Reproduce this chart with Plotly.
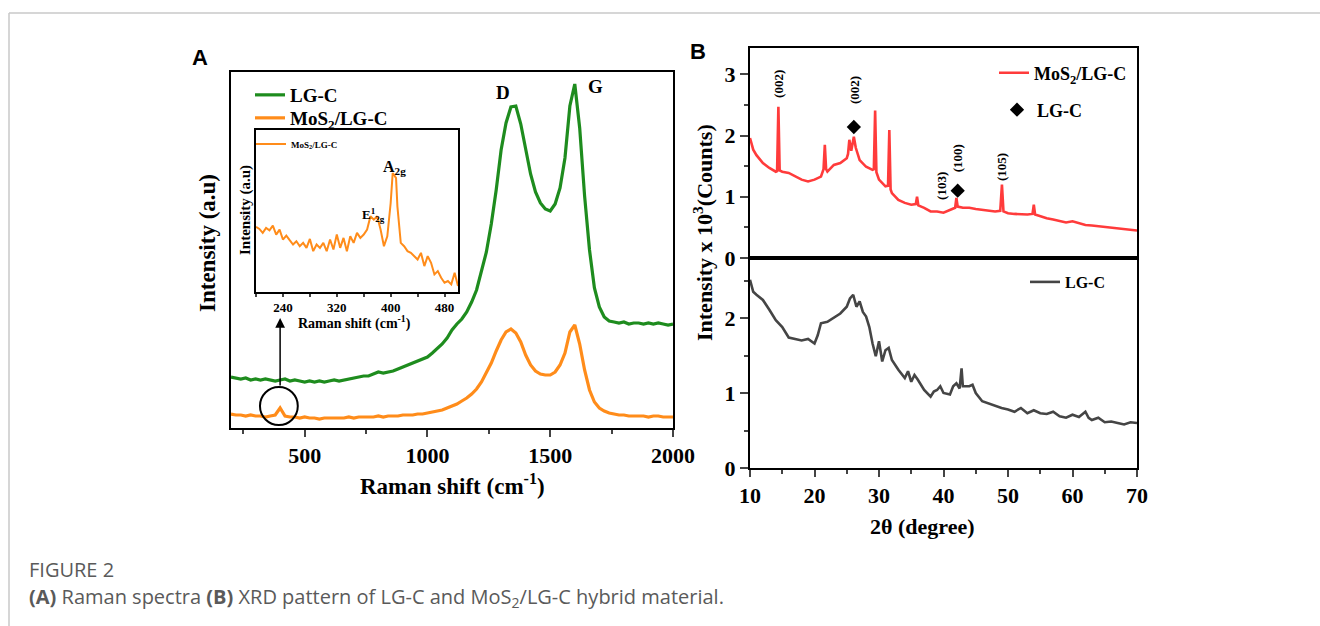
import plotly.graph_objects as go

# ---------------- Data ----------------
# Panel A: Raman spectra (arbitrary intensity units)
raman_shift = list(range(200, 2001, 20))
raman_lgc = [51, 50, 49, 50, 48, 49, 48, 49, 48, 47,
             48, 49, 47, 48, 47, 46, 47, 46, 47, 46,
             47, 48, 47, 48, 49, 50, 51, 52, 52, 54,
             56, 55, 56, 57, 59, 61, 63, 65, 67, 69,
             71, 75, 79, 84, 90, 98, 104, 109, 116, 126,
             138, 156, 176, 204, 238, 278, 305, 321, 322, 304,
             278, 254, 236, 225, 219, 217, 224, 240, 270, 322,
             344, 300, 232, 178, 140, 121, 111, 107, 106, 105,
             106, 104, 105, 105, 104, 105, 104, 105, 104, 103,
             104]
raman_mos2 = [14, 13, 13, 12, 13, 12, 12, 11, 12, 13,
              20, 12, 11, 11, 10, 11, 10, 10, 9, 10,
              10, 10, 10, 10, 11, 10, 11, 11, 11, 11,
              12, 11, 12, 12, 12, 13, 13, 13, 14, 14,
              15, 16, 17, 18, 20, 22, 24, 27, 30, 34,
              39, 46, 55, 65, 77, 88, 96, 99, 95, 86,
              73, 63, 57, 54, 53, 53, 56, 63, 75, 96,
              103, 84, 58, 38, 26, 20, 17, 15, 14, 13,
              13, 12, 12, 12, 12, 11, 12, 12, 11, 11,
              11]

# Inset: low-wavenumber Raman of MoS2/LG-C
inset_shift = [200, 205, 210, 215, 220, 225, 230, 235, 240, 245,
               250, 255, 260, 265, 270, 275, 280, 285, 290, 295,
               300, 305, 310, 315, 320, 325, 330, 335, 340, 345,
               350, 355, 360, 365, 370, 375, 380, 385, 390, 395,
               400, 403, 405, 408,
               410, 415, 420, 425, 430, 435, 440, 445, 450, 455,
               460, 465, 470, 475, 480, 485, 490, 495, 500]
inset_int = [196, 190, 178, 193, 186, 200, 173, 188, 158, 170,
             156, 143, 153, 138, 148, 133, 160, 123, 143, 133,
             148, 123, 158, 128, 173, 133, 163, 123, 168, 148,
             178, 163, 173, 188, 228, 218, 228, 188, 138, 168,
             268, 358, 353, 343,
             258, 148, 138, 123, 118, 108, 98, 118, 78, 108,
             88, 53, 63, 43, 28, 33, 23, 58, 18]

# Panel B: XRD (intensity x 10^3 counts)
xrd_theta_mos2 = [10, 10.5, 11, 12, 13, 14, 14.2, 14.4, 14.6, 15,
                  16, 17, 18, 19, 20, 21, 21.4, 21.6, 21.8, 22,
                  23, 24, 25, 25.2, 25.4, 25.7, 26.1, 26.4, 27, 28,
                  29, 29.2, 29.4, 29.6, 30, 31, 31.4, 31.6, 31.8, 32,
                  33, 34, 35, 35.7, 35.9, 36.1, 37, 38, 39, 40,
                  41, 41.8, 42.0, 42.2, 43, 44, 45, 46, 47, 48,
                  48.8, 49.06, 49.3, 50, 51, 52, 53, 53.8, 54.0, 54.2,
                  55, 56, 57, 58, 59, 60, 61, 62, 63, 64,
                  65, 66, 67, 68, 69, 70]
xrd_int_mos2 = [1.96, 1.77, 1.68, 1.55, 1.47, 1.41, 1.42, 2.47, 1.43, 1.41,
                1.39, 1.33, 1.28, 1.25, 1.28, 1.33, 1.45, 1.85, 1.45, 1.41,
                1.52, 1.55, 1.63, 1.70, 1.93, 1.75, 1.98, 1.80, 1.60, 1.49,
                1.44, 1.45, 2.41, 1.40, 1.28, 1.17, 1.18, 2.09, 1.12, 1.06,
                0.95, 0.90, 0.87, 0.88, 1.00, 0.86, 0.82, 0.76, 0.76, 0.74,
                0.79, 0.82, 0.98, 0.84, 0.82, 0.82, 0.80, 0.79, 0.78, 0.76,
                0.77, 1.20, 0.76, 0.73, 0.72, 0.71, 0.71, 0.72, 0.87, 0.71,
                0.68, 0.65, 0.63, 0.60, 0.58, 0.60, 0.57, 0.54, 0.53, 0.52,
                0.51, 0.49, 0.48, 0.47, 0.46, 0.45]

xrd_theta_lgc = [10, 10.5, 11, 12, 13, 14, 15, 16, 17, 18,
                 19, 20, 20.5, 21, 22, 23, 24, 25, 25.5, 26,
                 26.5, 27, 27.5, 28, 28.5, 29, 29.5, 30, 30.5, 31,
                 31.5, 32, 33, 34, 34.5, 35, 35.5, 36, 37, 38,
                 38.5, 39, 39.5, 40, 41, 41.5, 42, 42.5, 42.8, 43,
                 44, 44.5, 45, 46, 47, 48, 49, 50, 51, 52,
                 53, 54, 55, 56, 57, 58, 59, 60, 61, 62,
                 62.5, 63, 64, 65, 66, 67, 68, 69, 70]
xrd_int_lgc = [2.51, 2.35, 2.31, 2.24, 2.11, 1.97, 1.88, 1.74, 1.72, 1.70,
               1.72, 1.66, 1.77, 1.93, 1.95, 2.00, 2.06, 2.15, 2.26, 2.31,
               2.15, 2.22, 2.08, 2.02, 1.88, 1.66, 1.49, 1.69, 1.42, 1.57,
               1.60, 1.44, 1.31, 1.20, 1.29, 1.15, 1.24, 1.18, 1.04, 0.95,
               1.02, 1.04, 1.09, 1.00, 0.98, 1.09, 1.13, 1.06, 1.33, 1.09,
               1.09, 1.11, 1.00, 0.89, 0.86, 0.82, 0.80, 0.78, 0.75, 0.80,
               0.73, 0.77, 0.73, 0.72, 0.75, 0.69, 0.67, 0.71, 0.68, 0.75,
               0.67, 0.64, 0.67, 0.61, 0.62, 0.60, 0.58, 0.61, 0.60]

# LG-C reflections marked with diamonds on the MoS2/LG-C pattern
lgc_mark_theta = [26.1, 42.2]
lgc_mark_int = [2.14, 1.10]

# Miller index labels
hkl_labels = ["(002)", "(002)", "(103)", "(100)", "(105)"]
hkl_theta = [14.4, 26.1, 39.7, 42.1, 49.1]
hkl_y = [2.85, 2.74, 1.17, 1.63, 1.49]

# ---------------- Styling ----------------
W, H = 1320, 626
SERIF = "Liberation Serif"
SANS = "Liberation Sans"
GREEN = "#1e8c1e"
ORANGE = "#ff8c1a"
RED = "#ff3b3b"
GRAY = "#454545"


def px(x):
    return x / W


def py(y):
    return 1 - y / H


def bold(size, fam=SERIF):
    return dict(family=fam, size=size, color="black", weight="bold")


fig = go.Figure()

# Panel A traces
fig.add_trace(go.Scatter(x=raman_shift, y=raman_lgc, mode="lines", name="LG-C",
                         line=dict(color=GREEN, width=3.2), xaxis="x", yaxis="y",
                         legend="legend"))
fig.add_trace(go.Scatter(x=raman_shift, y=raman_mos2, mode="lines", name="MoS<sub>2</sub>/LG-C",
                         line=dict(color=ORANGE, width=3.2), xaxis="x", yaxis="y",
                         legend="legend5"))
# Inset
fig.add_trace(go.Scatter(x=inset_shift, y=inset_int, mode="lines", name="MoS<sub>2</sub>/LG-C",
                         line=dict(color=ORANGE, width=2), xaxis="x2", yaxis="y2",
                         legend="legend2"))
# Panel B top
fig.add_trace(go.Scatter(x=xrd_theta_mos2, y=xrd_int_mos2, mode="lines", name="MoS<sub>2</sub>/LG-C",
                         line=dict(color=RED, width=2.6), xaxis="x3", yaxis="y3",
                         legend="legend3"))
fig.add_trace(go.Scatter(x=lgc_mark_theta, y=lgc_mark_int, mode="markers", name="LG-C",
                         marker=dict(symbol="diamond", color="black", size=11),
                         xaxis="x3", yaxis="y3", legend="legend6"))
# Panel B bottom
fig.add_trace(go.Scatter(x=xrd_theta_lgc, y=xrd_int_lgc, mode="lines", name="LG-C",
                         line=dict(color=GRAY, width=2.6), xaxis="x4", yaxis="y4",
                         legend="legend4"))

tickfont = bold(22)
axis_common = dict(showline=True, linecolor="black", linewidth=2, mirror=True,
                   showgrid=False, zeroline=False, automargin=False)


def leg(x, y, size):
    return dict(x=px(x), y=py(y), xanchor="left", yanchor="middle",
                bgcolor="rgba(0,0,0,0)", borderwidth=0, font=bold(size))


fig.update_layout(
    template="none",
    width=W, height=H,
    margin=dict(l=0, r=0, t=0, b=0, pad=0, autoexpand=False),
    paper_bgcolor="white", plot_bgcolor="rgba(0,0,0,0)",
    showlegend=True,
    xaxis=dict(domain=[px(231), px(673)], range=[200, 2000], anchor="y",
               tickmode="linear", tick0=500, dtick=500, ticks="outside", ticklen=7, tickwidth=2,
               minor=dict(dtick=250, tick0=250, ticks="outside", ticklen=4, tickwidth=2),
               tickfont=tickfont, **axis_common),
    yaxis=dict(domain=[py(428), py(72)], range=[0, 356], anchor="x",
               showticklabels=False, ticks="", **axis_common),
    xaxis2=dict(domain=[px(256), px(458)], range=[200, 500], anchor="y2",
                tickmode="linear", tick0=240, dtick=80, ticks="outside", ticklen=3, tickwidth=1.5,
                minor=dict(dtick=40, tick0=200, ticks="outside", ticklen=3, tickwidth=1.5),
                tickfont=bold(13),
                showline=True, linecolor="black", linewidth=1.5, mirror=True,
                showgrid=False, zeroline=False, automargin=False),
    yaxis2=dict(domain=[py(292), py(130)], range=[0, 488], anchor="x2",
                showticklabels=False, ticks="",
                showline=True, linecolor="black", linewidth=1.5, mirror=True,
                showgrid=False, zeroline=False, automargin=False),
    xaxis3=dict(domain=[px(750), px(1137)], range=[10, 70], anchor="y3",
                showticklabels=False, ticks="", **axis_common),
    yaxis3=dict(domain=[py(258), py(48)], range=[0, 3.43], anchor="x3",
                tickmode="linear", tick0=0, dtick=1, ticks="outside", ticklen=8, tickwidth=2,
                minor=dict(dtick=0.5, tick0=0, ticks="outside", ticklen=4, tickwidth=2),
                tickfont=tickfont, **axis_common),
    xaxis4=dict(domain=[px(750), px(1137)], range=[10, 70], anchor="y4",
                tickmode="linear", tick0=10, dtick=10, ticks="outside", ticklen=7, tickwidth=2,
                minor=dict(dtick=5, tick0=10, ticks="outside", ticklen=4, tickwidth=2),
                tickfont=tickfont, **axis_common),
    yaxis4=dict(domain=[py(468), py(258)], range=[0, 2.8], anchor="x4",
                tickmode="linear", tick0=0, dtick=1, ticks="outside", ticklen=8, tickwidth=2,
                minor=dict(dtick=0.5, tick0=0, ticks="outside", ticklen=4, tickwidth=2),
                tickfont=tickfont, **axis_common),
    legend=leg(250, 95, 19),
    legend5=leg(250, 118, 19),
    legend2=leg(251, 144, 9),
    legend3=leg(994, 73, 18),
    legend6=leg(997, 110, 18),
    legend4=leg(1025, 282, 16),
)

ann = []


def txt(text, x, y, font, angle=0, xref="paper", yref="paper", xanchor="center"):
    if xref == "paper":
        x = px(x)
    if yref == "paper":
        y = py(y)
    return dict(text=text, x=x, y=y, xref=xref, yref=yref, showarrow=False, textangle=angle,
                xanchor=xanchor, yanchor="middle", font=font)


# Panel letters
ann.append(txt("A", 200, 57, bold(22, SANS)))
ann.append(txt("B", 698, 52, bold(22, SANS)))
# Panel A titles
ann.append(txt("Raman shift (cm<sup>-1</sup>)", 452, 484, bold(23)))
ann.append(txt("Intensity (a.u)", 207, 243, bold(23), angle=-90))
# D / G peak labels
ann.append(txt("D", 503, 93, bold(19)))
ann.append(txt("G", 595, 87, bold(19)))
# Inset titles
ann.append(txt("Raman shift (cm<sup>-1</sup>)", 354, 322, bold(14)))
ann.append(txt("Intensity (a.u)", 245, 210, bold(15), angle=-90))
ann.append(txt("E<sup>1</sup><sub>2g</sub>", 375, 232, bold(13), xref="x2", yref="y2"))
ann.append(txt("A<sub>2g</sub>", 405, 375, bold(16), xref="x2", yref="y2"))
# Arrow from circle to inset
ann.append(dict(text="", x=400, y=110, ax=400, ay=41, xref="x", yref="y", axref="x", ayref="y",
                showarrow=True, arrowhead=2, arrowsize=1.3, arrowwidth=1.5, arrowcolor="black"))

# Panel B titles
ann.append(txt("Intensity x 10<sup>3</sup>(Counts)", 703, 233, bold(22), angle=-90))
ann.append(txt("2θ (degree)", 922, 526, bold(22)))
# hkl labels
for t, xx, yy in zip(hkl_labels, hkl_theta, hkl_y):
    ann.append(txt(t, xx, yy, bold(13), angle=-90, xref="x3", yref="y3"))

# Caption
cap_font = dict(family="Open Sans", size=20, color="#5a5a5a")
ann.append(txt("FIGURE 2", 27, 569, cap_font, xanchor="left"))
ann.append(txt("<b>(A)</b> Raman spectra <b>(B)</b> XRD pattern of LG-C and MoS<sub>2</sub>/LG-C hybrid material.",
               27, 597, cap_font, xanchor="left"))

fig.update_layout(annotations=ann)

fig.update_layout(shapes=[
    # circle highlighting the MoS2 feature
    dict(type="circle", xref="x", yref="y", x0=318, x1=472, y0=3, y1=41,
         line=dict(color="black", width=2)),
    # page frame
    dict(type="line", xref="paper", yref="paper", x0=px(9), x1=1, y0=py(13), y1=py(13),
         line=dict(color="#c8c8c8", width=1.5)),
    dict(type="line", xref="paper", yref="paper", x0=px(9), x1=px(9), y0=0, y1=py(13),
         line=dict(color="#c8c8c8", width=1.5)),
])

fig.write_html(
    "out.html",
    config={"responsive": False, "displayModeBar": False},
    post_script="document.body.style.margin='0';document.body.style.overflow='hidden';",
)
